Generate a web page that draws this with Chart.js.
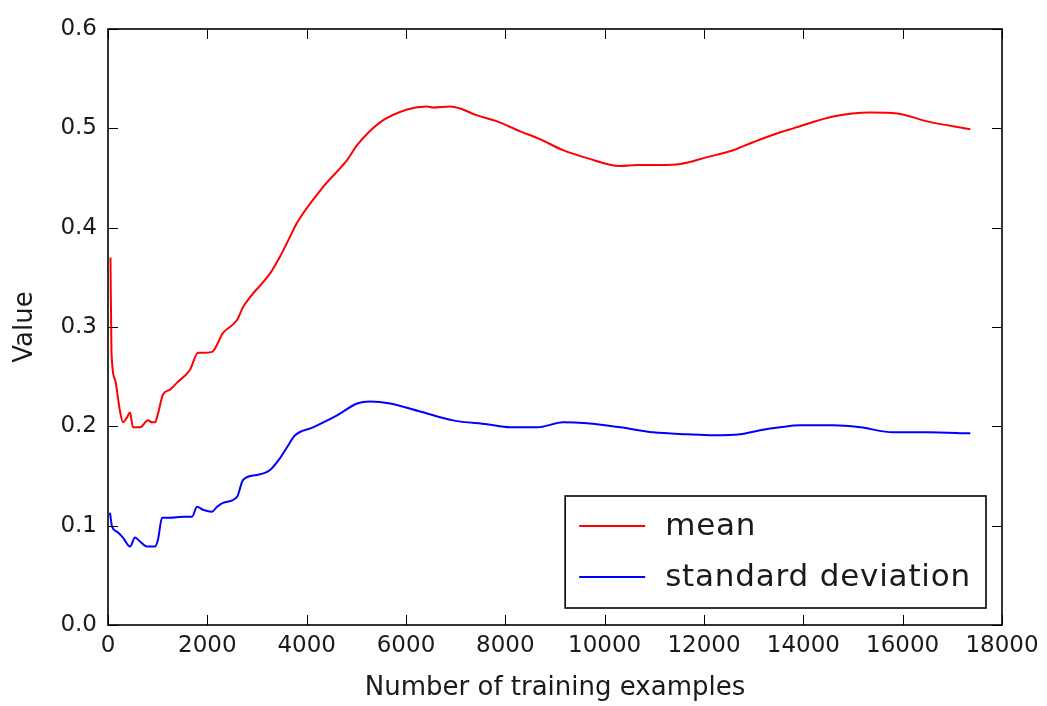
<!DOCTYPE html>
<html><head><meta charset="utf-8">
<script src="https://cdn.jsdelivr.net/npm/chart.js@4.4.0/dist/chart.umd.min.js"></script>
<style>html,body{margin:0;padding:0;background:#fff;}</style>
</head><body>
<canvas id="c" width="1047" height="706"></canvas>
<script>
const meanLabel = 'mean';
const stdLabel = 'standard deviation';
const xTitle = 'Number of training examples';
const yTitle = 'Value';

const meanX = [50, 70, 141, 242, 302, 383, 443, 503, 645, 806, 886, 947, 1007, 1108, 1249, 1390, 1652, 1813, 1913, 2095, 2316, 2598, 2719, 2860, 3263, 3464, 3666, 3806, 4330, 4813, 5015, 5478, 6022, 6425, 6546, 6888, 7089, 7432, 7835, 8298, 8701, 9164, 9647, 10312, 10654, 11117, 11520, 12064, 12588, 12991, 13534, 13796, 14601, 15347, 15890, 16494, 17361];
const meanY = [0.370, 0.275, 0.247, 0.215, 0.204, 0.209, 0.214, 0.199, 0.199, 0.206, 0.204, 0.204, 0.213, 0.232, 0.237, 0.244, 0.257, 0.274, 0.274, 0.275, 0.294, 0.307, 0.320, 0.330, 0.354, 0.371, 0.391, 0.405, 0.441, 0.468, 0.483, 0.506, 0.519, 0.522, 0.521, 0.522, 0.520, 0.513, 0.507, 0.497, 0.489, 0.478, 0.470, 0.462, 0.463, 0.463, 0.464, 0.471, 0.478, 0.486, 0.496, 0.500, 0.512, 0.516, 0.515, 0.507, 0.499];

const stdX = [40, 81, 181, 302, 443, 544, 645, 786, 947, 1007, 1088, 1249, 1511, 1692, 1792, 1913, 2095, 2195, 2316, 2598, 2719, 3001, 3263, 3464, 3605, 3766, 4129, 4612, 5015, 5277, 5680, 6284, 6948, 7633, 8096, 8640, 9164, 9647, 10312, 10977, 11661, 12185, 12729, 13131, 13534, 13937, 14601, 15145, 15810, 16494, 17361];
const stdY = [0.113, 0.099, 0.094, 0.088, 0.079, 0.088, 0.084, 0.079, 0.079, 0.086, 0.108, 0.108, 0.109, 0.109, 0.119, 0.116, 0.114, 0.119, 0.123, 0.129, 0.146, 0.151, 0.156, 0.168, 0.179, 0.191, 0.199, 0.211, 0.223, 0.225, 0.223, 0.215, 0.206, 0.202, 0.199, 0.199, 0.204, 0.203, 0.199, 0.194, 0.192, 0.191, 0.192, 0.196, 0.199, 0.201, 0.201, 0.199, 0.194, 0.194, 0.193];

const xMin = 0, xMax = 18000, xStep = 2000;
const yMin = 0, yMax = 0.6, yStep = 0.1;

const FONT = 'DejaVu Sans';
const TEXT = '#1a1a1a';

function pts(xs, ys) { return xs.map((x, i) => ({x: x, y: ys[i]})); }

const frameTicks = {
  id: 'frameTicks',
  afterDatasetsDraw(chart) {
    const ctx = chart.ctx, ca = chart.chartArea;
    const xs = chart.scales.x, ys = chart.scales.y;
    const L = 10;
    ctx.save();
    ctx.strokeStyle = '#000';
    ctx.lineWidth = 1;
    ctx.beginPath();
    xs.ticks.forEach(t => {
      const p = Math.round(xs.getPixelForValue(t.value)) + 0.5;
      ctx.moveTo(p, ca.bottom); ctx.lineTo(p, ca.bottom - L);
      ctx.moveTo(p, ca.top); ctx.lineTo(p, ca.top + L);
    });
    ys.ticks.forEach(t => {
      const p = Math.round(ys.getPixelForValue(t.value)) + 0.5;
      ctx.moveTo(ca.left, p); ctx.lineTo(ca.left + L, p);
      ctx.moveTo(ca.right, p); ctx.lineTo(ca.right - L, p);
    });
    ctx.stroke();
    ctx.lineWidth = 1.6;
    ctx.strokeRect(ca.left, ca.top, ca.right - ca.left, ca.bottom - ca.top);

    // legend (lower right, inside plot)
    const items = chart.data.datasets.map(d => ({label: d.label, color: d.borderColor}));
    ctx.font = '31px "' + FONT + '"';
    if ('letterSpacing' in ctx) ctx.letterSpacing = '0.8px';
    const tw = Math.max(...items.map(it => ctx.measureText(it.label).width));
    const padL = 14, handle = 66, gap = 20, padR = 15, rowH = 51, padT = 30, padB = 31;
    const w = padL + handle + gap + tw + padR;
    const h = padT + rowH * (items.length - 1) + padB;
    const right = ca.right - 16, bottom = ca.bottom - 17;
    const left = right - w, top = bottom - h;
    ctx.fillStyle = '#fff';
    ctx.fillRect(left, top, w, h);
    ctx.lineWidth = 1.6;
    ctx.strokeStyle = '#000';
    ctx.strokeRect(left, top, w, h);
    items.forEach((it, i) => {
      const cy = top + padT + i * rowH;
      ctx.strokeStyle = it.color;
      ctx.lineWidth = 2;
      ctx.beginPath();
      ctx.moveTo(left + padL, cy); ctx.lineTo(left + padL + handle, cy);
      ctx.stroke();
      ctx.fillStyle = TEXT;
      ctx.textBaseline = 'middle';
      ctx.textAlign = 'left';
      ctx.fillText(it.label, left + padL + handle + gap, cy + 1);
    });
    if ('letterSpacing' in ctx) ctx.letterSpacing = '0px';
    ctx.restore();
  }
};

new Chart(document.getElementById('c'), {
  type: 'line',
  data: {
    datasets: [
      {label: meanLabel, data: pts(meanX, meanY), borderColor: '#ff0000', borderWidth: 2, pointRadius: 0, fill: false, cubicInterpolationMode: 'monotone'},
      {label: stdLabel, data: pts(stdX, stdY), borderColor: '#0000ff', borderWidth: 2, pointRadius: 0, fill: false, cubicInterpolationMode: 'monotone'}
    ]
  },
  options: {
    responsive: false,
    animation: false,
    devicePixelRatio: 1,
    layout: {padding: {top: 29, right: 45, left: 0, bottom: 0}},
    plugins: {legend: {display: false}, tooltip: {enabled: false}},
    scales: {
      x: {
        type: 'linear', min: xMin, max: xMax,
        afterFit(s) { s.height = 81; },
        grid: {display: true, drawOnChartArea: false, drawTicks: false},
        border: {display: false},
        ticks: {stepSize: xStep, padding: 7, color: TEXT, font: {family: FONT, size: 23}, maxRotation: 0, callback: v => String(v)},
        title: {display: true, text: xTitle, color: TEXT, font: {family: FONT, size: 26}, padding: {top: 0, bottom: 2}}
      },
      y: {
        type: 'linear', min: yMin, max: yMax,
        afterFit(s) { s.width = 108; },
        grid: {display: true, drawOnChartArea: false, drawTicks: false},
        border: {display: false},
        ticks: {stepSize: yStep, padding: 11, color: TEXT, font: {family: FONT, size: 23}, callback: v => Number(v).toFixed(1)},
        title: {display: true, text: yTitle, color: TEXT, font: {family: FONT, size: 26}, padding: {top: 10, bottom: 0}}
      }
    }
  },
  plugins: [frameTicks]
});
</script>
</body></html>
